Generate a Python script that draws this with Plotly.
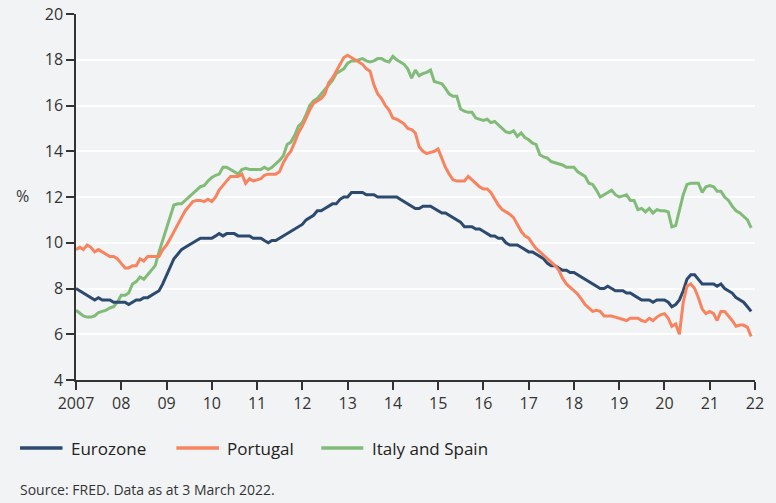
import pandas as pd
import plotly.graph_objects as go

# ---------------- data (monthly, Jan 2007 - Dec 2021, % unemployment) ----------------
dates = pd.date_range("2007-01-01", periods=180, freq="MS")

eurozone = (
    [8.0, 7.9, 7.8, 7.7, 7.6, 7.5, 7.6, 7.5, 7.5, 7.5, 7.4, 7.4]          # 2007
    + [7.4, 7.4, 7.3, 7.4, 7.5, 7.5, 7.6, 7.6, 7.7, 7.8, 7.9, 8.2]        # 2008
    + [8.6, 9.0, 9.3, 9.5, 9.7, 9.8, 9.9, 10.0, 10.1, 10.2, 10.2, 10.2]   # 2009
    + [10.2, 10.3, 10.4, 10.3, 10.4, 10.4, 10.4, 10.3, 10.3, 10.3, 10.3, 10.2]  # 2010
    + [10.2, 10.2, 10.1, 10.0, 10.1, 10.1, 10.2, 10.3, 10.4, 10.5, 10.6, 10.7]  # 2011
    + [10.8, 11.0, 11.1, 11.2, 11.4, 11.4, 11.5, 11.6, 11.7, 11.7, 11.9, 12.0]  # 2012
    + [12.0, 12.2, 12.2, 12.2, 12.2, 12.1, 12.1, 12.1, 12.0, 12.0, 12.0, 12.0]  # 2013
    + [12.0, 12.0, 11.9, 11.8, 11.7, 11.6, 11.5, 11.5, 11.6, 11.6, 11.6, 11.5]  # 2014
    + [11.4, 11.3, 11.3, 11.2, 11.1, 11.0, 10.9, 10.7, 10.7, 10.7, 10.6, 10.6]  # 2015
    + [10.5, 10.4, 10.3, 10.3, 10.2, 10.2, 10.0, 9.9, 9.9, 9.9, 9.8, 9.7]      # 2016
    + [9.6, 9.6, 9.5, 9.4, 9.3, 9.1, 9.0, 9.0, 8.9, 8.8, 8.8, 8.7]            # 2017
    + [8.7, 8.6, 8.5, 8.4, 8.3, 8.2, 8.1, 8.0, 8.0, 8.1, 8.0, 7.9]            # 2018
    + [7.9, 7.9, 7.8, 7.8, 7.7, 7.6, 7.5, 7.5, 7.5, 7.4, 7.5, 7.5]            # 2019
    + [7.5, 7.4, 7.2, 7.3, 7.5, 7.9, 8.4, 8.6, 8.6, 8.4, 8.2, 8.2]            # 2020
    + [8.2, 8.2, 8.1, 8.2, 8.0, 7.9, 7.8, 7.6, 7.5, 7.4, 7.2, 7.0]            # 2021
)

portugal = (
    [9.7, 9.8, 9.7, 9.9, 9.8, 9.6, 9.7, 9.6, 9.5, 9.4, 9.4, 9.3]
    + [9.1, 8.9, 8.9, 9.0, 9.0, 9.3, 9.2, 9.4, 9.4, 9.4, 9.4, 9.7]
    + [9.9, 10.2, 10.5, 10.8, 11.1, 11.4, 11.6, 11.8, 11.85, 11.85, 11.8, 11.9]
    + [11.8, 12.0, 12.3, 12.5, 12.7, 12.9, 12.9, 12.9, 13.0, 12.6, 12.8, 12.7]
    + [12.75, 12.8, 12.95, 13.0, 13.0, 13.0, 13.1, 13.5, 13.8, 14.0, 14.4, 14.8]
    + [15.1, 15.5, 15.8, 16.1, 16.2, 16.3, 16.5, 17.0, 17.2, 17.5, 17.85, 18.1]
    + [18.2, 18.1, 18.0, 17.9, 17.8, 17.6, 17.5, 16.9, 16.5, 16.3, 16.0, 15.8]
    + [15.45, 15.4, 15.3, 15.2, 15.0, 14.95, 14.8, 14.2, 14.0, 13.9, 13.95, 14.0]
    + [14.1, 13.7, 13.3, 13.0, 12.75, 12.7, 12.7, 12.7, 12.9, 12.75, 12.6, 12.45]
    + [12.35, 12.35, 12.2, 11.9, 11.65, 11.45, 11.35, 11.25, 11.1, 10.8, 10.5, 10.3]
    + [10.2, 9.95, 9.75, 9.6, 9.45, 9.3, 9.15, 9.0, 8.8, 8.45, 8.2, 8.05]
    + [7.9, 7.75, 7.55, 7.3, 7.15, 7.0, 7.05, 7.0, 6.8, 6.8, 6.8, 6.75]
    + [6.7, 6.65, 6.6, 6.7, 6.7, 6.7, 6.6, 6.55, 6.7, 6.6, 6.75, 6.85]
    + [6.9, 6.7, 6.35, 6.45, 6.0, 7.4, 8.1, 8.2, 8.0, 7.6, 7.1, 6.9]
    + [7.0, 6.9, 6.6, 7.0, 7.0, 6.8, 6.6, 6.35, 6.4, 6.4, 6.3, 5.9]
)

italy_spain = (
    [7.05, 6.9, 6.8, 6.75, 6.75, 6.8, 6.95, 7.0, 7.05, 7.15, 7.2, 7.4]
    + [7.7, 7.7, 7.8, 8.2, 8.3, 8.5, 8.4, 8.6, 8.8, 9.0, 9.6, 10.1]
    + [10.6, 11.15, 11.65, 11.7, 11.7, 11.85, 12.0, 12.15, 12.3, 12.45, 12.5, 12.7]
    + [12.85, 12.95, 13.0, 13.3, 13.3, 13.2, 13.1, 13.0, 13.2, 13.25, 13.2, 13.2]
    + [13.2, 13.2, 13.3, 13.2, 13.3, 13.45, 13.6, 13.8, 14.3, 14.4, 14.7, 15.1]
    + [15.25, 15.6, 16.0, 16.2, 16.3, 16.5, 16.7, 16.9, 17.1, 17.4, 17.5, 17.6]
    + [17.85, 17.95, 17.95, 18.0, 18.05, 17.95, 17.9, 17.95, 18.05, 18.05, 17.95, 17.9]
    + [18.15, 18.0, 17.9, 17.8, 17.6, 17.2, 17.55, 17.3, 17.4, 17.45, 17.55, 17.05]
    + [17.0, 16.95, 16.75, 16.5, 16.4, 16.4, 15.85, 15.75, 15.7, 15.7, 15.45, 15.4]
    + [15.35, 15.4, 15.25, 15.3, 15.15, 15.0, 14.85, 14.8, 14.9, 14.65, 14.8, 14.6]
    + [14.5, 14.35, 14.3, 13.85, 13.75, 13.7, 13.55, 13.5, 13.45, 13.4, 13.3, 13.3]
    + [13.3, 13.1, 13.0, 12.9, 12.6, 12.55, 12.3, 12.0, 12.1, 12.2, 12.3, 12.1]
    + [12.0, 12.05, 12.1, 11.85, 11.85, 11.45, 11.5, 11.35, 11.5, 11.3, 11.45, 11.4]
    + [11.4, 11.35, 10.7, 10.75, 11.4, 12.1, 12.55, 12.6, 12.6, 12.6, 12.2, 12.45]
    + [12.5, 12.45, 12.25, 12.25, 12.0, 11.85, 11.6, 11.4, 11.3, 11.15, 11.0, 10.65]
)

series_names = ["Eurozone", "Portugal", "Italy and Spain"]
tick_years = list(range(2007, 2023))
tick_labels = ["2007"] + [f"{y % 100:02d}" for y in range(2008, 2023)]
y_ticks = [4, 6, 8, 10, 12, 14, 16, 18, 20]

# ---------------- style ----------------
COL = {"Eurozone": "#2c4a70", "Portugal": "#f7845f", "Italy and Spain": "#80bc78"}
BG = "#f2f3f5"
AX = "#333333"
FONT = "Open Sans"

W, H = 776, 503
L, R, T, B = 76, 20.5, 14, 123
PW, PH = W - L - R, H - T - B


def px(x):
    return (x - L) / PW


def py(y):
    return (H - B - y) / PH


fig = go.Figure()
data = {"Eurozone": eurozone, "Portugal": portugal, "Italy and Spain": italy_spain}
for name in ["Italy and Spain", "Eurozone", "Portugal"]:
    fig.add_trace(go.Scatter(
        x=dates, y=data[name], mode="lines", name=name,
        line=dict(color=COL[name], width=3), showlegend=False,
    ))

# manual legend
legend_pos = {"Eurozone": (20, 62.5, 69), "Portugal": (176.5, 219, 225.5),
              "Italy and Spain": (321.5, 363.5, 370)}
for name in series_names:
    x0, x1, xt = legend_pos[name]
    fig.add_shape(type="line", xref="paper", yref="paper",
                  x0=px(x0), x1=px(x1), y0=py(448), y1=py(448),
                  line=dict(color=COL[name], width=3.5))
    fig.add_annotation(xref="paper", yref="paper", x=px(xt), y=py(448),
                       text=name, showarrow=False, xanchor="left", yanchor="middle",
                       font=dict(family=FONT, size=17, color="#222222"))

fig.add_annotation(xref="paper", yref="paper", x=px(14), y=py(196), text="%",
                   showarrow=False, xanchor="left", yanchor="middle",
                   font=dict(family=FONT, size=16, color="#333333"))
fig.add_annotation(xref="paper", yref="paper", x=px(18), y=py(489),
                   text="Source: FRED. Data as at 3 March 2022.", showarrow=False,
                   xanchor="left", yanchor="middle",
                   font=dict(family=FONT, size=14, color="#333333"))

fig.update_layout(
    width=W, height=H,
    margin=dict(l=L, r=R, t=T, b=B, autoexpand=False),
    paper_bgcolor=BG, plot_bgcolor=BG,
    font=dict(family=FONT, size=16, color="#333333"),
    showlegend=False,
)
fig.update_xaxes(
    range=[pd.Timestamp("2007-01-01"), pd.Timestamp("2022-01-01")],
    tickvals=[pd.Timestamp(f"{y}-01-01") for y in tick_years],
    ticktext=tick_labels, automargin=False,
    showgrid=False, showline=True, linecolor=AX, linewidth=1.5,
    ticks="outside", ticklen=8, tickwidth=1.5, tickcolor=AX,
    tickfont=dict(family=FONT, size=16, color="#333333"), zeroline=False,
)
fig.update_yaxes(
    range=[4, 20], tickvals=y_ticks, automargin=False,
    showgrid=True, gridcolor="#ffffff", gridwidth=2,
    showline=True, linecolor=AX, linewidth=1.5,
    ticks="outside", ticklen=8, tickwidth=1.5, tickcolor=AX,
    tickfont=dict(family=FONT, size=16, color="#333333"), zeroline=False,
)

fig.write_html("out.html")
